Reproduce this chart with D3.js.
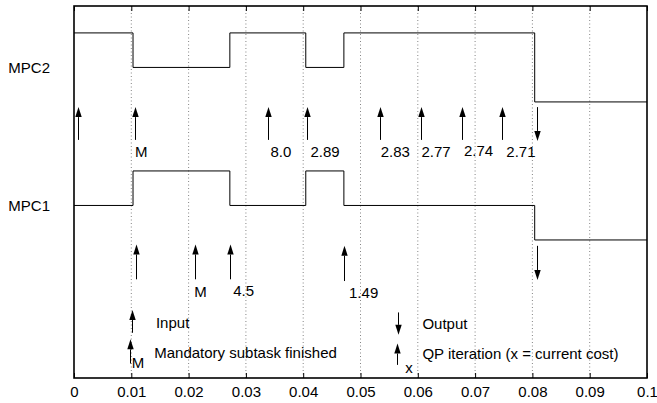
<!DOCTYPE html>
<html><head><meta charset="utf-8">
<script src="https://cdn.jsdelivr.net/npm/d3@7"></script>
<style>
html,body{margin:0;padding:0;background:#fff;}
svg{display:block;font-family:"Liberation Sans",Arial,Helvetica,sans-serif;}
</style></head>
<body><svg id="c" width="657" height="403"></svg>
<script>
// ---- data ----
const xTicks = [0, 0.01, 0.02, 0.03, 0.04, 0.05, 0.06, 0.07, 0.08, 0.09, 0.1];
const xTickLabels = ["0", "0.01", "0.02", "0.03", "0.04", "0.05", "0.06", "0.07", "0.08", "0.09", "0.1"];
const yTicks = [5, 9];
const yTickLabels = ["MPC1", "MPC2"];

// task execution signals (step after)
const stepTimes = [0, 0.0103, 0.0272, 0.04045, 0.0471, 0.0804, 0.1];
const mpc2Levels = [10, 9, 10, 9, 10, 8, 8];
const mpc1Levels = [5, 6, 5, 6, 5, 4, 4];

// MPC2 up arrows (input / mandatory / QP iterations)
const mpc2UpX = [0.00075, 0.01058, 0.03383, 0.04068, 0.05336, 0.0605, 0.06765, 0.07475];
const mpc2UpTail = [6.9, 6.9, 6.9, 6.9, 6.9, 6.9, 6.9, 6.9];
const mpc2UpTip = [7.85, 7.85, 7.85, 7.85, 7.85, 7.85, 7.85, 7.85];
const mpc2Labels = ["M", "8.0", "2.89", "2.83", "2.77", "2.74", "2.71"];
const mpc2LabelX = [0.01064, 0.0343, 0.04127, 0.05353, 0.06063, 0.06806, 0.07545];
const mpc2LabelY = [6.40, 6.40, 6.40, 6.40, 6.40, 6.44, 6.40];

// MPC1 up arrows
const mpc1UpX = [0.01081, 0.0211, 0.02715, 0.04713];
const mpc1UpTail = [2.86, 2.86, 2.86, 2.81];
const mpc1UpTip = [3.87, 3.87, 3.87, 3.83];
const mpc1Labels = ["M", "4.5", "1.49"];
const mpc1LabelX = [0.02098, 0.02778, 0.048];
const mpc1LabelY = [2.36, 2.39, 2.31];

// output (down) arrows
const downX = [0.08079, 0.08085];
const downTail = [7.85, 3.83];
const downTip = [6.87, 2.84];

// legend
const legUpX = [0.01006, 0.00982, 0.05637];
const legUpTail = [1.31, 0.42, 0.38];
const legUpTip = [1.97, 1.12, 1.0];
const legDownX = [0.05655];
const legDownTail = [1.90];
const legDownTip = [1.25];
const legTexts = ["Input", "M", "Mandatory subtask finished", "Output", "x", "QP iteration (x = current cost)"];
const legTextX = [0.0143, 0.01006, 0.014, 0.0608, 0.0578, 0.0608];
const legTextY = [1.44, 0.28, 0.58, 1.41, 0.14, 0.54];

// ---- layout ----
const svg = d3.select("#c");
const L = 74, R = 647, T = 6, B = 378;
const x = d3.scaleLinear().domain([0, 0.1]).range([L, R]);
const y = d3.scaleLinear().domain([0, 10.78]).range([B, T]);
const FS = 15;

// grid
svg.append("g").selectAll("line").data(xTicks.slice(1, -1)).join("line")
  .attr("x1", d => x(d)).attr("x2", d => x(d)).attr("y1", T).attr("y2", B)
  .attr("stroke", "#666").attr("stroke-width", 0.8).attr("stroke-dasharray", "1,2.5");

// axes
const fmt = d => xTickLabels[xTicks.indexOf(d)];
const gB = svg.append("g").attr("transform", `translate(0,${B})`)
  .call(d3.axisBottom(x).tickValues(xTicks).tickFormat(fmt).tickSizeInner(-5).tickSizeOuter(0).tickPadding(8));
gB.select(".domain").remove();
gB.selectAll("text").attr("font-size", FS).attr("font-family", "Liberation Sans, Arial, sans-serif").attr("fill", "#000");
gB.selectAll("line").attr("stroke", "#000");
const gT = svg.append("g").attr("transform", `translate(0,${T})`)
  .call(d3.axisTop(x).tickValues(xTicks).tickFormat("").tickSizeInner(-5).tickSizeOuter(0));
gT.select(".domain").remove();
gT.selectAll("line").attr("stroke", "#000");
const gL = svg.append("g").attr("transform", `translate(${L},0)`)
  .call(d3.axisLeft(y).tickValues(yTicks).tickFormat((d, i) => yTickLabels[yTicks.indexOf(d)]).tickSize(0).tickPadding(24));
gL.select(".domain").remove();
gL.selectAll("text").attr("font-size", FS).attr("font-family", "Liberation Sans, Arial, sans-serif").attr("fill", "#000");

// signals
const line = d3.line().x(d => x(d[0])).y(d => y(d[1])).curve(d3.curveStepAfter);
[mpc2Levels, mpc1Levels].forEach(lv => {
  svg.append("path").datum(stepTimes.map((t, i) => [t, lv[i]]))
    .attr("d", line).attr("fill", "none").attr("stroke", "#000").attr("stroke-width", 1);
});

// arrows
function arrow(xv, tailV, tipV) {
  const px = Math.round(x(xv)) + 0.5, y0 = y(tailV), y1 = y(tipV);
  const dir = y1 < y0 ? -1 : 1; // -1 up
  const hl = 10, hw = 3.2;
  const g = svg.append("g");
  g.append("line").attr("x1", px).attr("x2", px).attr("y1", y0).attr("y2", y1 - dir * hl)
    .attr("stroke", "#000").attr("stroke-width", 1);
  g.append("path").attr("d", `M${px},${y1}L${px - hw},${y1 - dir * hl}L${px + hw},${y1 - dir * hl}Z`)
    .attr("fill", "#000");
}
mpc2UpX.forEach((v, i) => arrow(v, mpc2UpTail[i], mpc2UpTip[i]));
mpc1UpX.forEach((v, i) => arrow(v, mpc1UpTail[i], mpc1UpTip[i]));
downX.forEach((v, i) => arrow(v, downTail[i], downTip[i]));
legUpX.forEach((v, i) => arrow(v, legUpTail[i], legUpTip[i]));
legDownX.forEach((v, i) => arrow(v, legDownTail[i], legDownTip[i]));

// labels
function labels(txt, xs, ys) {
  svg.append("g").selectAll("text").data(txt).join("text")
    .attr("x", (d, i) => x(xs[i])).attr("y", (d, i) => y(ys[i]))
    .attr("font-size", FS).attr("fill", "#000").text(d => d);
}
labels(mpc2Labels, mpc2LabelX, mpc2LabelY);
labels(mpc1Labels, mpc1LabelX, mpc1LabelY);
labels(legTexts, legTextX, legTextY);

// box
svg.append("rect").attr("x", L).attr("y", T).attr("width", R - L).attr("height", B - T)
  .attr("fill", "none").attr("stroke", "#000").attr("stroke-width", 1.6);
</script></body></html>
